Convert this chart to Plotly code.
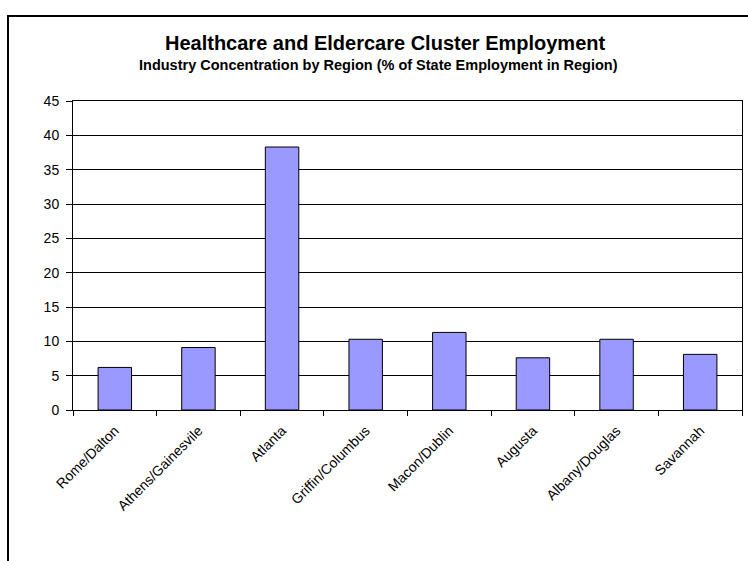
import plotly.graph_objects as go

regions = ["Rome/Dalton", "Athens/Gainesvile", "Atlanta", "Griffin/Columbus",
           "Macon/Dublin", "Augusta", "Albany/Douglas", "Savannah"]
share_pct = [6.2, 9.1, 38.3, 10.3, 11.3, 7.6, 10.3, 8.1]
y_ticks = [0, 5, 10, 15, 20, 25, 30, 35, 40, 45]

title_text = "Healthcare and Eldercare Cluster Employment"
subtitle_text = "Industry Concentration by Region (% of State Employment in Region)"

FONT = "Arial, 'Liberation Sans', sans-serif"

W, H = 748, 561
L, R, T, B = 73, 6, 101, 151
pw, ph = W - L - R, H - T - B


def px_x(x):
    return (x - L) / pw


def px_y(y):
    return (H - B - y) / ph


fig = go.Figure(
    go.Bar(
        x=regions,
        y=share_pct,
        marker=dict(color="#9999FF", line=dict(color="black", width=1)),
        width=0.4,
    )
)

fig.update_layout(
    width=W,
    height=H,
    margin=dict(l=L, r=R, t=T, b=B),
    paper_bgcolor="white",
    plot_bgcolor="white",
    showlegend=False,
    font=dict(family=FONT, color="black"),
    annotations=[
        dict(text=f"<b>{title_text}</b>", x=px_x(385), y=px_y(43),
             xref="paper", yref="paper", showarrow=False,
             xanchor="center", yanchor="middle", font=dict(size=20)),
        dict(text=f"<b>{subtitle_text}</b>", x=px_x(378), y=px_y(65),
             xref="paper", yref="paper", showarrow=False,
             xanchor="center", yanchor="middle", font=dict(size=14.5)),
    ],
    shapes=[
        dict(type="rect", xref="paper", yref="paper",
             x0=px_x(8), x1=px_x(770), y0=px_y(16), y1=px_y(600),
             line=dict(color="black", width=2), layer="above"),
    ],
)

fig.update_xaxes(
    type="category",
    tickangle=-45,
    tickson="boundaries",
    ticks="outside",
    ticklen=5,
    tickcolor="black",
    showline=True,
    linecolor="black",
    linewidth=1,
    mirror=True,
    showgrid=False,
    ticklabelstandoff=6,
    tickfont=dict(size=14, family=FONT),
)

fig.update_yaxes(
    range=[0, 45],
    tickvals=y_ticks,
    ticks="outside",
    ticklen=6,
    tickcolor="black",
    showline=True,
    linecolor="black",
    linewidth=1,
    mirror=True,
    showgrid=True,
    gridcolor="black",
    gridwidth=1,
    zeroline=False,
    ticklabelstandoff=4,
    tickfont=dict(size=14, family=FONT),
)

fig.write_html("out.html")
